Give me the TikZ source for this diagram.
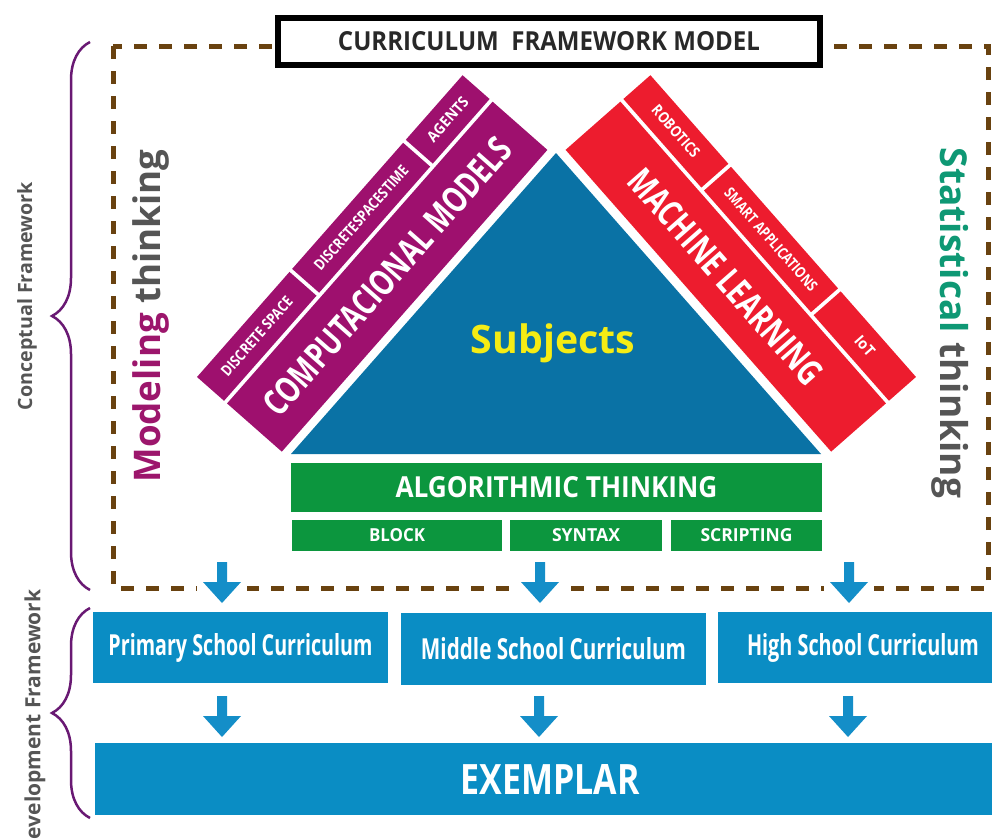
\documentclass[tikz,border=0pt]{standalone}
\usepackage{fontspec}
\setmainfont{Open Sans}
\usepackage{graphicx}
\usetikzlibrary{calc,decorations.pathreplacing}

\definecolor{cpurple}{RGB}{158,16,110}
\definecolor{cred}{RGB}{237,28,46}
\definecolor{tblue}{RGB}{10,114,165}
\definecolor{bblue}{RGB}{10,141,196}
\definecolor{ablue}{RGB}{20,142,200}
\definecolor{cgreen}{RGB}{12,150,62}
\definecolor{cbrown}{RGB}{105,66,16}
\definecolor{bracepurple}{RGB}{105,25,115}
\definecolor{tgrey}{RGB}{85,85,85}
\definecolor{tdark}{RGB}{40,40,40}
\definecolor{cteal}{RGB}{14,152,116}
\definecolor{cyellow}{RGB}{245,236,20}
\definecolor{mpurple}{RGB}{156,22,108}

\newcommand\wh[3]{\resizebox{#1pt}{#2pt}{#3}}
\newcommand\ww[2]{\resizebox{#1pt}{!}{#2}}
\newcommand\blockarrow[1]{\fill[ablue] ($(#1)+(-5,0)$) -- ($(#1)+(5,0)$) -- ($(#1)+(5,20)$) -- ($(#1)+(19,20)$) -- ($(#1)+(0,41)$) -- ($(#1)+(-19,20)$) -- ($(#1)+(-5,20)$) -- cycle;}

\begin{document}
\begin{tikzpicture}[x=1pt,y=-1pt,
  wbox/.style={inner sep=0pt, outer sep=0pt, text=white, font=\bfseries},
  pband/.style={wbox, fill=cpurple, anchor=center},
  rband/.style={wbox, fill=cred, anchor=center},
  gbox/.style={wbox, fill=cgreen, anchor=north west},
  bbox/.style={wbox, fill=bblue, anchor=north west},
  bracestyle/.style={bracepurple, line width=2.5pt, decorate, decoration={brace, amplitude=38pt}},
  sidetext/.style={text=tgrey, font=\bfseries, inner sep=0pt}
]
\useasboundingbox (0,0) rectangle (992,838);
\fill[white] (0,0) rectangle (992,838);

% dashed frame
\draw[cbrown, line width=5pt, dash pattern=on 13pt off 12pt] (113,46) rectangle (988,588);

% braces and side labels
\draw[bracestyle] (90,590) -- (90,42);
\draw[bracestyle] (90,818) -- (90,608);
\node[sidetext, rotate=90] (cf) at (27,296) {\ww{228}{Conceptual Framework}};
\node[sidetext, rotate=90] (df) at (35,722) {\ww{265}{Development Framework}};

\node[rotate=90, inner sep=0pt, font=\bfseries] (mt) at (151,316) {\ww{333}{\textcolor{mpurple}{Modeling} \textcolor{tgrey}{thinking}}};
\node[rotate=-90, inner sep=0pt, font=\bfseries] (st) at (950,323) {\ww{350}{\textcolor{cteal}{Statistical} \textcolor{tgrey}{thinking}}};

% triangle
\coordinate (tl) at (291,454);
\coordinate (ta) at (556,153);
\coordinate (tr) at (821,454);
\fill[tblue] (tl) -- (ta) -- (tr) -- cycle;
\node[font=\bfseries, text=cyellow, inner sep=0pt] (subj) at (553,343) {\ww{164}{Subjects}};

% purple band
\begin{scope}[shift={(197,377)}, rotate=48.65, transform shape]
  \node[pband, minimum width=402pt, minimum height=73pt] (cm) at (201,76.5) {\wh{356}{26}{COMPUTACIONAL MODELS}};
  \node[pband, minimum width=140pt, minimum height=36pt] (ds) at (70,18) {\wh{100}{11}{DISCRETE SPACE}};
  \node[pband, minimum width=168pt, minimum height=36pt] (dst) at (228,18) {\wh{134}{11}{DISCRETESPACESTIME}};
  \node[pband, minimum width=86pt, minimum height=36pt] (ag) at (359,18) {\wh{54}{11}{AGENTS}};
\end{scope}

% red band
\begin{scope}[shift={(650.4,75.2)}, rotate=-48.65, transform shape]
  \node[rband, minimum width=402pt, minimum height=73pt] (ml) at (201,76.5) {\wh{274}{26}{MACHINE LEARNING}};
  \node[rband, minimum width=118pt, minimum height=36pt] (rob) at (59,18) {\wh{64}{11}{ROBOTICS}};
  \node[rband, minimum width=162pt, minimum height=36pt] (sa) at (203,18) {\wh{132}{11}{SMART APPLICATIONS}};
  \node[rband, minimum width=114pt, minimum height=36pt] (iot) at (345,18) {\wh{22}{11}{IoT}};
\end{scope}

% title
\node[draw=black, line width=6pt, fill=white, minimum width=542pt, minimum height=47pt, inner sep=0pt, text=tdark, font=\bfseries] (title) at (549,41.5) {\wh{422}{19}{CURRICULUM\ \ FRAMEWORK MODEL}};

% green boxes
\node[gbox, minimum width=531pt, minimum height=49pt] (alg) at (291,463) {\wh{322}{21}{ALGORITHMIC THINKING}};
\node[gbox, minimum width=210pt, minimum height=31pt] (block) at (292,520) {\wh{56}{13}{BLOCK}};
\node[gbox, minimum width=152pt, minimum height=31pt] (syntax) at (510,520) {\wh{68}{13}{SYNTAX}};
\node[gbox, minimum width=151pt, minimum height=31pt] (script) at (671,520) {\wh{92}{13}{SCRIPTING}};

% arrows row 1
\coordinate (a1) at (222,562);
\coordinate (a2) at (540,562);
\coordinate (a3) at (849,562);
\foreach \c in {a1,a2,a3} {\fill[white] ($(\c)+(-25,19)$) rectangle ($(\c)+(25,32)$);}
\blockarrow{a1}
\blockarrow{a2}
\blockarrow{a3}

% curriculum boxes
\node[bbox, minimum width=295pt, minimum height=71pt] (prim) at (93,612) {\wh{264}{22}{Primary School Curriculum}};
\node[bbox, minimum width=305pt, minimum height=72pt] (mid) at (401,613) {\wh{265}{22}{Middle\ School\ Curriculum}};
\node[bbox, minimum width=290pt, minimum height=71pt] (high) at (718,612) {\wh{232}{22}{High School Curriculum}};

% arrows row 2
\coordinate (b1) at (222,696);
\coordinate (b2) at (539,696);
\coordinate (b3) at (848,696);
\blockarrow{b1}
\blockarrow{b2}
\blockarrow{b3}

% exemplar
\node[bbox, minimum width=910pt, minimum height=72pt] (exem) at (95,743) {\wh{179}{30}{EXEMPLAR}};
\end{tikzpicture}
\end{document}
